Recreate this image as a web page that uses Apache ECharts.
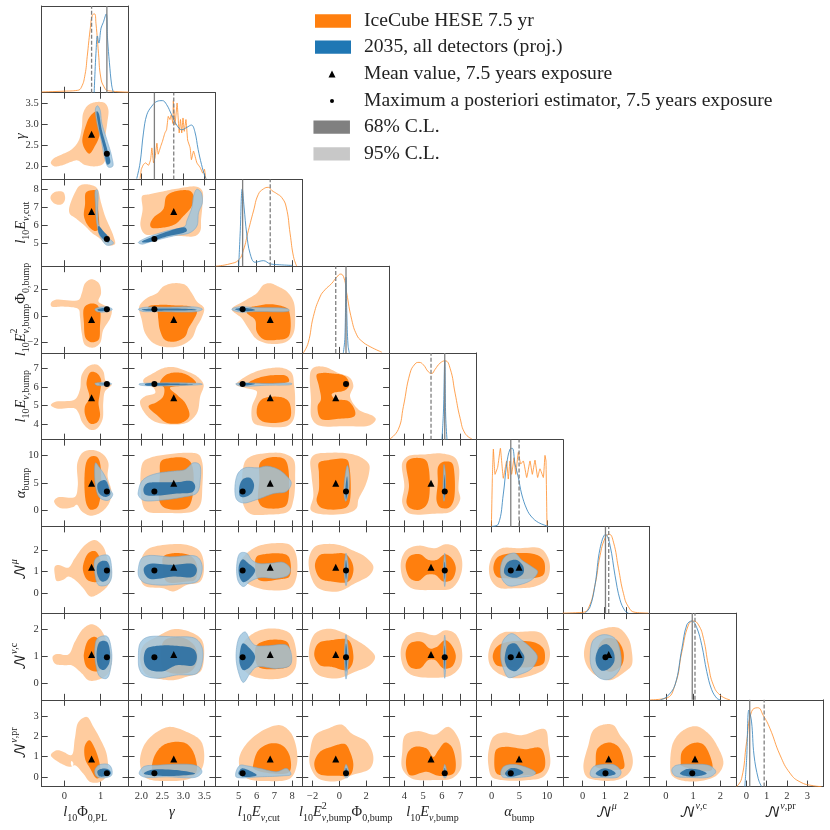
<!DOCTYPE html>
<html><head><meta charset="utf-8">
<style>html,body{margin:0;padding:0;background:#fff}#c{width:830px;height:830px}</style>
<script src="https://cdn.jsdelivr.net/npm/echarts@6/dist/echarts.min.js"></script>
</head><body><div id="c"></div>
<script>
// ---------- axis ranges and ticks for the nine parameters ----------
const ranges=[[-0.62,1.765],[1.696,3.76],[3.69,8.57],[-2.78,3.73],[3.19,7.81],[-2.85,12.86],[-0.92,3.09],[-0.59,2.59],[-0.48,3.79]];
const ticks=[[0,1],[2,2.5,3,3.5],[5,6,7,8],[-2,0,2],[4,5,6,7],[0,5,10],[0,1,2],[0,1,2],[0,1,2,3]];
const meanValue=[0.75,2.77,6.77,-0.27,5.42,4.95,1.2,1.07,0.88];
const mapValue=[1.17,2.31,5.22,0.5,6.15,3.45,1.05,0.97,0.17];
// ---------- 1D posteriors (x,y pairs) ----------
const d0o=[-.62,.01,0,.02,.36,.03,.47,.07,.57,.23,.63,.46,.71,.8,.77,.98,.83,1,.87,.88,.94,.5,1,.2,1.09,.076,1.21,.025,1.77,.008];
const d0b=[.82,0,.845,.27,.87,.5,.91,.72,.95,.63,1.01,.82,1.07,.89,1.15,1,1.19,.67,1.24,.38,1.3,.1,1.35,0];
const d1o=[1.97,.01,2,.13,2.05,.19,2.1,.21,2.17,.18,2.22,.25,2.25,.4,2.29,.21,2.33,.29,2.37,.46,2.4,.32,2.46,.42,2.5,.48,2.56,.59,2.6,.63,2.64,.8,2.68,.76,2.71,.82,2.75,.71,2.76,1,2.8,.69,2.85,.97,2.9,.59,2.93,.76,2.96,.59,2.99,.78,3.02,.61,3.06,.76,3.1,.5,3.16,.4,3.19,.25,3.24,.36,3.32,.21,3.4,.15,3.46,.08,3.5,.13,3.53,.01];
const d1b=[1.89,.01,1.97,.21,2.05,.59,2.13,.82,2.25,.93,2.37,.99,2.5,1,2.6,.95,2.72,.82,2.84,.69,2.96,.63,3.08,.66,3.19,.69,3.27,.61,3.35,.38,3.43,.19,3.51,.04,3.54,.01];
const d2o=[3.72,0,4.51,.03,5,.08,5.26,.2,5.54,.45,5.83,.7,6.1,.91,6.39,.98,6.67,1,6.86,.96,7.14,.92,7.42,.87,7.67,.75,7.89,.41,8.08,.12,8.26,0];
const d2b=[5,0,5.08,.41,5.2,.98,5.3,.75,5.45,.41,5.64,.16,5.92,.05,6.39,.07,6.76,.03,7.14,.02,8,.01];
const d3o=[-2.7,0,-2.33,.13,-1.95,.46,-1.45,.71,-1.08,.8,-.58,.88,-.2,.96,.1,1,.35,.95,.55,.76,.93,.42,1.3,.23,1.68,.15,2.3,.08,3.18,.01];
const d3b=[.3,0,.42,.2,.5,.96,.56,.5,.65,.1,.75,0];
const d4o=[3.24,.01,3.68,.13,3.95,.42,4.3,.84,4.57,.96,4.78,.98,5.01,.95,5.28,.86,5.46,.84,5.63,.89,5.9,.97,6.17,1,6.44,.9,6.7,.59,6.97,.27,7.23,.08,7.59,.01];
const d4b=[6,0,6.08,.35,6.15,1,6.2,.3,6.27,0];
const d5o=[-.06,0,.12,.62,.3,.98,.6,.66,1.08,.75,1.57,.99,2.1,.61,2.7,.83,3,.6,3.3,.83,3.6,.66,4.04,.87,4.34,.66,4.82,.94,5.24,.79,5.72,.83,6.33,.62,6.93,.83,7.35,.66,7.83,.84,8.31,.62,8.73,.73,9.34,.62,9.64,.9,9.82,.83,10,0];
const d5b=[0,0,1.2,.03,2.1,.41,2.71,.79,3.31,.98,3.73,.99,4.22,.79,4.82,.62,5.42,.41,6.33,.22,7.23,.12,8.43,.05,10.24,0];
const d6o=[-.92,0,0,.01,.26,.06,.57,.36,.8,.73,1.03,.95,1.22,1,1.42,.9,1.65,.57,1.88,.25,2.11,.08,2.42,.01,3.03,0];
const d6b=[.11,0,.34,.08,.57,.36,.8,.82,1.06,1,1.26,.86,1.49,.48,1.72,.17,1.95,.03,2.11,0];
const d7o=[-.57,0,0,.02,.34,.19,.59,.61,.83,.95,1.01,1,1.2,.95,1.38,.78,1.56,.44,1.74,.19,1.99,.06,2.35,0];
const d7b=[-.2,0,.04,.04,.34,.19,.59,.65,.77,.95,.95,1,1.13,.92,1.32,.69,1.5,.36,1.68,.13,1.87,.02,1.99,0];
const d8o=[-.48,0,-.23,.1,.02,.57,.26,.95,.56,1,.84,.9,1.16,.74,1.66,.4,2.15,.17,2.64,.06,3.3,.01,3.7,0];
const d8b=[-.07,0,.02,.36,.13,.97,.26,.82,.38,.4,.59,.1,.75,0];
const diagonals=[[d0o,d0b],[d1o,d1b],[d2o,d2b],[d3o,d3b],[d4o,d4b],[d5o,d5b],[d6o,d6b],[d7o,d7b],[d8o,d8b]];
// ---------- 2D credible regions (x,y pairs in data units): name_row_col ----------
const o95_1_0=[-.37,2.09,-.3,2.19,-.07,2.29,.2,2.41,.39,2.61,.48,2.92,.52,3.28,.66,3.47,.89,3.54,1.12,3.51,1.21,3.36,1.18,3.04,1.12,2.64,1.15,2.25,1.07,2.07,.89,2.01,.57,2.04,.36,2.15,.2,2.12,-.07,2.03,-.28,2.01];
const o68_1_0=[.5,2.68,.6,3,.71,3.2,.89,3.32,.98,3.04,.96,2.72,.84,2.49,.69,2.31,.57,2.41,.5,2.57];
const b95_1_0=[.86,3.39,.91,3.45,.98,3.36,1.03,3.04,1.17,2.64,1.3,2.25,1.33,2.01,1.21,1.99,1.12,2.17,1.01,2.64,.89,3.08];
const b68_1_0=[.89,3.32,.94,3.28,1.03,2.88,1.18,2.41,1.26,2.09,1.18,2.05,1.09,2.41,.96,2.88];
const o95_2_0=[.13,6.89,.29,7.82,.43,8.23,.66,8.29,.89,8.1,1.01,7.26,1.12,6.51,1.35,5.39,1.39,4.93,1.21,4.87,.94,5.3,.75,5.58,.57,5.95,.29,6.42,.16,6.61];
const o95i_2_0=[-.37,7.64,-.26,7.86,-.03,7.86,.02,7.45,-.07,7.17,-.26,7.2,-.37,7.45];
const o68_2_0=[.59,7.82,.71,7.95,.89,7.92,.92,7.07,.94,5.77,.84,5.67,.66,5.95,.54,6.51,.57,7.17];
const b95_2_0=[.86,7.97,.91,7.97,.92,6.7,.96,5.95,1.21,5.3,1.35,4.98,1.17,4.87,.98,5.39,.89,6.14,.86,7.07];
const b68_2_0=[.94,5.95,1.07,5.67,1.24,5.24,1.21,5.02,1.07,5.2,.94,5.58];
const o95_2_1=[2.02,7.64,2.17,7.73,2.44,7.86,2.84,8.05,3.32,8.16,3.45,7.92,3.45,7.07,3.42,6.33,3.4,5.67,3.28,5.39,2.92,5.39,2.44,5.49,2.09,5.49,1.98,5.95,2.03,6.89];
const o68_2_1=[2.21,6.05,2.29,6.42,2.52,6.89,2.6,7.64,2.84,7.92,3.16,7.92,3.24,7.64,3.2,7.07,3,6.51,2.8,6.05,2.52,5.86,2.24,5.86];
const b95_2_1=[1.93,5.02,2.13,5.3,2.6,5.67,3.04,5.95,3.08,6.23,3.2,6.98,3.24,7.64,3.32,8.02,3.42,7.83,3.45,7.26,3.36,6.7,3.32,5.95,3.16,5.58,2.76,5.39,2.21,5.06,2.01,4.93];
const b68_2_1=[2.01,5.06,2.37,5.43,3.04,5.86,3.08,5.67,2.6,5.36,2.13,5.02];
const o95_3_0=[-.37,.95,-.26,1.2,.39,1.2,.48,1.7,.57,2.45,.75,2.75,.95,2.45,1.01,1.7,.94,1.08,1.17,.7,1.3,.45,1.26,-.18,1.07,-1.05,.98,-2.05,.8,-2.38,.57,-2.18,.48,-1.3,.43,-.05,.39,.5,-.03,.7,-.35,.7];
const o68_3_0=[.54,.58,.66,.88,.87,.88,.98,.45,.98,-.8,.94,-1.8,.75,-1.98,.59,-1.68,.54,-.55];
const b95_3_0=[.84,.5,.98,.65,1.21,.65,1.32,.5,1.21,.33,.89,.33];
const b68_3_0=[.91,.48,1.17,.6,1.26,.48,1.15,.38,.94,.38];
const o95_3_1=[1.95,.7,2.13,1.33,2.37,1.7,2.52,2.2,2.76,2.45,3.04,2.33,3.2,1.7,3.32,1.08,3.49,.58,3.43,-.18,3.32,-.8,3.2,-1.68,2.92,-2.25,2.6,-2.35,2.29,-2.05,2.09,-1.3,2.01,-.3];
const o68_3_1=[2.17,.7,2.44,.83,2.84,.78,3.16,.7,3.32,.33,3.24,-.3,3.12,-.93,3.04,-1.55,2.8,-1.93,2.56,-1.8,2.44,-1.05,2.4,-.18,2.37,.33,2.17,.4];
const b95_3_1=[1.93,.5,2.05,.63,2.6,.65,3.32,.65,3.45,.5,3.32,.33,2.44,.33,2.01,.35];
const b68_3_1=[2.01,.48,2.44,.55,3.24,.5,3.32,.45,2.6,.4,2.09,.4];
const o95_3_2=[4.61,.5,5.26,1.08,6.01,1.7,6.39,2.33,6.76,2.45,7.23,2.2,7.7,1.83,8.08,1.08,8.17,-.05,8.08,-1.3,7.7,-1.93,6.76,-2.1,6.01,-1.75,5.54,-.93,5.17,-.18];
const o68_3_2=[5.54,.58,6.01,.75,6.76,.88,7.51,.7,7.8,.45,7.8,-1.55,7.14,-1.8,6.39,-1.75,6.01,-1.18,5.92,-.3,5.45,.25];
const b95_3_2=[4.61,.5,4.98,.68,5.83,.63,7.8,.5,7.83,.38,6.01,.33,4.98,.3];
const b68_3_2=[4.79,.5,5.17,.6,5.83,.5,5.92,.43,5.17,.35];
const o95_4_0=[-.37,5.03,-.26,5.2,.29,5.33,.43,5.86,.48,6.65,.66,7.1,.89,7.19,1.07,6.84,1.14,6.31,1.3,6.12,1.12,5.77,1.07,5.15,1.05,4.27,.89,3.77,.71,3.72,.5,4.09,.39,4.62,.29,4.85,-.21,4.85];
const o68_4_0=[.61,6.21,.72,6.78,.89,6.74,1.01,6.39,.98,5.68,.94,5.15,.98,4.44,.89,4.09,.71,4.05,.57,4.53,.57,4.97,.69,5.42];
const b95_4_0=[.84,6.18,.98,6.23,1.21,6.23,1.3,6.16,1.17,6.09,.89,6.09];
const b68_4_0=[.94,6.16,1.17,6.19,1.24,6.16,1.12,6.12];
const o95_4_1=[2.05,6.39,2.29,6.74,2.52,7,2.76,7.06,3.08,6.83,3.32,6.57,3.48,6.12,3.4,5.5,3.32,4.6,3.08,4.09,2.68,4,2.29,4.18,2.05,4.71,1.97,5.24,2.09,5.5,2.33,5.68,2.29,5.95,2.06,6.21];
const o68_4_1=[2.44,6.18,2.56,6.6,2.8,6.77,3.08,6.65,3.3,6.21,3.04,6.07,2.68,5.95,2.84,5.59,3.04,5.15,3.14,4.44,2.96,4.09,2.6,4.09,2.4,4.44,2.17,4.97,2.37,5.19,2.52,5.5,2.54,5.95];
const b95_4_1=[1.95,6.16,2.05,6.19,3.4,6.18,3.45,6.14,2.05,6.07,1.95,6.12];
const b68_4_1=[2.09,6.16,2.76,6.18,3.24,6.14,2.76,6.1,2.09,6.1];
const o95_4_2=[4.85,6.12,5.26,6.48,6.01,6.83,6.76,7,7.51,7,7.98,6.74,8.11,6.12,8.17,5.33,8.08,4.27,7.7,3.91,6.39,3.91,5.83,4.09,5.73,4.88,6.01,5.59,6.01,5.77,5.35,5.95];
const o68a_4_2=[5.54,6.21,6.11,6.48,6.86,6.62,7.7,6.57,7.83,6.3,7.33,6.18,6.39,6.16];
const o68b_4_2=[6.29,5.33,6.76,5.47,7.51,5.42,7.85,5.15,7.89,4.35,7.51,4.14,6.39,4.14,6.05,4.44,6.05,4.97];
const b95_4_2=[4.83,6.16,5.08,6.21,6.58,6.18,7.98,6.18,7.98,6.14,6.58,6.09,5.08,6.05];
const b68_4_2=[4.98,6.16,5.26,6.21,5.92,6.16,5.26,6.07];
const o95_4_3=[-2.15,6.83,-1.83,7.06,-1.08,7.06,-.08,6.74,.8,6.48,1.05,6.04,.8,5.5,1.43,4.8,2.55,4.44,2.73,4.27,2.3,3.96,.43,3.91,-1.58,3.96,-2.08,4.35,-2.13,5.33];
const o68_4_3=[-1.7,6.65,-1.33,6.74,-.45,6.71,.43,6.57,.75,6.12,.43,5.82,-.45,5.68,-.58,5.59,-.33,5.36,.68,5.24,1.18,4.71,1.13,4.44,-.08,4.3,-1.38,4.3,-1.63,4.97,-1.38,5.33,-1.53,6.04];
const o95_5_0=[-.28,1.7,-.17,2.42,.29,2.48,.37,4.42,.36,8.67,.52,10.6,.8,10.97,1.07,10.18,1.21,8.67,1.19,6.24,1.3,3.21,1.21,1.09,.98,-.42,.71,-.91,.48,-.12,.34,1.09,.25,.67,-.12,.48];
const o68_5_0=[.6,8.67,.72,9.76,.89,9.76,.98,8.67,.98,2,.89,.48,.72,.18,.6,1.39];
const b95_5_0=[.86,8.67,.94,8.06,1.12,6.24,1.26,3.82,1.33,2.91,1.21,1.88,.98,2.3,.86,4.42];
const b68_5_0=[.92,4.91,1.12,5.52,1.24,3.82,1.26,2.91,1.12,2.48,.95,3.21];
const o95_5_1=[2.03,8.67,2.21,9.58,2.6,10.18,3.08,10.48,3.36,10.18,3.45,8.67,3.45,4.42,3.4,1.09,3.24,-.12,2.6,-.42,2.13,-.12,2.03,1.09];
const o68_5_1=[2.47,8.97,2.68,9.52,3.04,9.52,3.2,8.36,3.2,2,3.08,.48,2.56,.48,2.43,1.7,2.44,6.24];
const b95_5_1=[1.93,3.52,2.01,5.33,2.17,6.24,2.44,6.85,2.76,7.15,3.04,7.45,3.24,8.67,3.38,8.36,3.4,5.64,3.32,3.21,3,2.48,2.44,1.88,2.05,1.88,1.93,2.79];
const b68_5_1=[2.05,3.94,2.13,4.91,2.44,5.15,2.84,5.15,3.2,5.33,3.28,4.42,3.22,3.39,2.84,3.09,2.37,2.73,2.09,2.91];
const o95_5_2=[5.32,8.67,5.64,9.76,6.39,10.36,7.51,10.36,8.08,9.27,8.17,6.24,8.08,2,7.8,-.12,6.58,-.73,5.64,-.55,5.26,1.09];
const o68_5_2=[6.2,8.67,6.67,9.58,7.51,9.45,7.74,8.36,7.74,1.39,7.51,.61,6.39,.61,6.11,1.7,6.16,5.64];
const b95_5_2=[4.79,4.42,4.98,6.85,5.36,7.76,6.11,7.76,6.58,8.06,7.23,7.45,7.7,6.24,7.95,5.03,7.7,3.52,6.95,3.09,6.01,2,5.26,1.39,4.89,2];
const b68_5_2=[5.04,4.42,5.26,5.76,5.64,5.94,5.86,4.73,5.73,3.21,5.36,2.48,5.08,2.6];
const o95_5_3=[-2.15,9.27,-1.83,10.18,-.83,10.48,.68,10.36,1.68,9.58,2.23,8.36,2.23,6.85,1.93,4.42,1.43,2,1.3,.48,.68,-.42,-1.58,-.55,-2.15,.18,-1.95,2.6,-2.08,6.24];
const o68_5_3=[-1.53,8.67,-.83,9.15,.55,9.27,.75,8.06,.75,1.39,.43,.48,-1.33,.48,-1.7,1.7,-1.53,3.82,-1.53,6.85];
const b95_5_3=[.6,8.18,.73,6.85,.68,3.21,.48,1.7,.35,3.21,.43,6.24];
const b68_5_3=[.58,6.24,.63,3.82,.5,2,.45,3.82];
const o95_5_4=[3.89,8.67,4.21,9.88,5.1,10.18,5.99,10.36,6.7,9.58,6.91,7.76,6.88,3.82,6.97,2,6.52,-.12,5.63,-.55,4.21,-.42,3.89,1.39,4,4.42];
const o68a_5_4=[4.12,8.67,4.39,9.45,5.1,9.27,5.28,8.06,5.24,1.39,4.83,.18,4.3,.48,4.12,1.39,4.25,4.42];
const o68b_5_4=[5.81,8.06,6.08,8.85,6.52,8.67,6.66,6.85,6.61,1.7,6.34,.48,5.9,.61,5.72,1.7,5.78,5.03];
const b95_5_4=[6.11,8.36,6.18,6.85,6.17,3.21,6.11,1.7,6.06,3.21,6.08,6.24];
const b68_5_4=[6.13,6.54,6.17,3.82,6.11,2.12,6.1,3.82];
const o95_6_0=[-.26,1.23,-.17,1.31,.11,1.18,.29,1.62,.57,2.23,.84,2.46,1.07,2.15,1.18,1.62,1.3,1,1.21,.38,.89,-.08,.71,-.15,.52,.23,.29,.62,.11,.77,-.03,.62,-.21,.57,-.26,.85];
const o68_6_0=[.52,1.31,.66,1.85,.84,1.95,.96,1.69,1.03,.62,.84,.51,.63,.62,.52,1];
const b95_6_0=[.84,1.54,.98,1.72,1.21,1.74,1.3,1.15,1.28,.62,1.17,.38,.94,.38,.84,.92];
const b68_6_0=[.91,1.31,1.03,1.49,1.18,1.46,1.26,1,1.18,.62,1.03,.54,.91,.85];
const o95_6_1=[1.97,1.31,2.13,2,2.68,2.26,3.16,2.2,3.4,1.92,3.49,1.15,3.4,.54,3.08,.38,2.76,.08,2.52,.23,2.05,.38];
const o68_6_1=[2.52,1.69,2.76,1.85,3.08,1.8,3.2,1.69,3.32,1.31,3.28,.62,3.08,.54,2.6,.54,2.52,1.15];
const b95_6_1=[1.93,1.15,2.01,1.62,2.17,1.74,2.68,1.68,3.32,1.69,3.44,1.31,3.42,.85,3.32,.54,2.92,.42,2.37,.38,2.05,.51,1.94,.77];
const b68_6_1=[2.06,1.15,2.17,1.34,2.76,1.31,3.24,1.34,3.32,1.08,3.24,.77,2.76,.77,2.21,.66,2.09,.85];
const o95_6_2=[5.04,1.38,5.36,1.77,6.01,2.15,6.95,2.31,7.89,2.23,8.23,1.77,8.23,.69,7.89,.23,6.58,.15,5.64,.38,5.17,.69];
const o68_6_2=[6.01,1.69,6.58,1.82,7.61,1.8,7.85,1.62,7.85,.77,7.33,.65,6.11,.62,5.92,1.31];
const b95_6_2=[4.89,1.31,5.08,1.85,5.45,1.85,5.73,1.54,6.11,1.38,6.76,1.38,7.51,1.42,7.89,1.15,7.8,.85,7.14,.69,6.2,.72,5.64,.54,5.26,.31,4.98,.54];
const b68_6_2=[5.02,1.31,5.23,1.57,5.54,1.38,5.92,1.08,5.64,.69,5.26,.51,5.04,.77];
const o95_6_3=[-2.28,1.62,-1.83,2.15,-.83,2.28,.18,2.2,.93,2,1.93,1.69,2.55,1.23,2.3,.85,1.18,.46,-.08,.08,-1.58,.23,-2.13,.77];
const o68_6_3=[-1.83,1.31,-1.45,1.77,-.58,1.82,.43,1.82,.93,1.46,1.05,1,.68,.54,-.58,.54,-1.45,.69];
const b95_6_3=[.38,1.31,.5,1.85,.68,1.15,.5,.35,.38,.85];
const b68_6_3=[.45,1.31,.5,1.54,.58,1.08,.5,.62,.45,.85];
const o95_6_4=[3.82,1.46,4.12,2,4.75,2.2,5.63,2.08,6.17,2.26,6.7,2.15,7.05,1.62,7,.85,6.52,.23,5.63,.15,4.39,.23,3.95,.62];
const o68_6_4=[4.07,1.31,4.3,1.72,4.83,1.8,5.28,1.54,5.72,1.54,6.17,1.8,6.52,1.62,6.74,1.15,6.52,.62,6.08,.54,5.63,.85,5.19,.85,4.75,.57,4.3,.69];
const b95_6_4=[6.08,1.15,6.15,1.85,6.22,1.15,6.15,.31];
const b68_6_4=[6.11,1.15,6.15,1.46,6.18,1.08,6.15,.62];
const o95_6_5=[-.48,1.23,.3,1.77,1.81,2.08,4.82,2.08,8.73,2.08,9.94,1.77,10.54,1.23,9.94,.62,7.83,.31,4.22,.23,1.2,.26,-.12,.62];
const o68_6_5=[.3,1.15,.9,1.62,2.41,1.8,7.83,1.8,9.34,1.54,9.64,1.15,9.34,.85,7.53,.69,2.71,.69,.9,.77];
const b95_6_5=[1.63,1.23,2.41,1.69,4.22,1.85,5.42,1.54,7.23,1.23,8.31,1,7.23,.62,4.82,.38,3.01,.35,1.81,.69];
const b68_6_5=[2.29,1.15,3.01,1.46,4.52,1.54,5.72,1.23,5.72,.92,4.52,.72,3.01,.77,2.29,.92];
const o95_7_0=[-.32,.99,-.21,1.09,.11,1.07,.29,1.54,.52,2.02,.75,2.18,.98,2.02,1.17,1.54,1.3,.99,1.21,.38,.89,.13,.66,.13,.48,.38,.2,.68,.02,.68,-.26,.74];
const o68_7_0=[.54,1.11,.66,1.6,.84,1.72,.98,1.54,.98,.5,.8,.46,.61,.62,.54,.93];
const b95_7_0=[.84,1.29,.91,1.66,1.17,1.74,1.3,1.17,1.28,.62,1.17,.2,.98,.26,.87,.68];
const b68_7_0=[.89,1.17,.98,1.54,1.17,1.54,1.26,1.05,1.21,.68,1.07,.5,.94,.62];
const o95_7_1=[1.97,.93,2.05,1.41,2.37,1.72,2.76,2,3.16,1.9,3.44,1.6,3.49,.99,3.4,.44,3.08,.26,2.76,.13,2.37,.2,2.09,.38];
const o68_7_1=[2.52,1.54,2.76,1.7,3.04,1.66,3.28,1.35,3.32,.8,3.16,.44,2.76,.38,2.52,.56];
const b95_7_1=[1.93,.93,1.97,1.48,2.13,1.7,2.76,1.72,3.28,1.66,3.44,1.35,3.45,.8,3.32,.38,2.84,.32,2.37,.2,2.05,.32,1.95,.56];
const b68_7_1=[2.06,.99,2.13,1.29,2.37,1.39,2.84,1.39,3.24,1.27,3.32,.99,3.24,.68,2.84,.68,2.52,.46,2.21,.5,2.09,.68];
const o95_7_2=[5.04,1.17,5.45,1.66,6.2,1.96,7.14,2.02,7.89,1.84,8.21,1.29,8.17,.56,7.7,.26,6.58,.17,5.64,.32,5.17,.62];
const o68_7_2=[6.01,1.41,6.67,1.6,7.7,1.54,7.89,1.23,7.89,.68,7.14,.54,6.11,.62,5.92,1.05];
const b95_7_2=[4.85,1.05,5.04,1.72,5.36,1.9,5.64,1.6,5.92,1.41,6.58,1.39,7.7,1.41,7.95,1.11,7.89,.68,7.14,.56,6.01,.62,5.64,.38,5.26,.05,4.98,.44];
const b68_7_2=[5.04,.99,5.23,1.48,5.54,1.35,5.92,.99,5.64,.62,5.26,.5,5.08,.68];
const o95_7_3=[-2.28,1.23,-1.83,1.84,-.83,2.02,.18,1.9,1.05,1.66,2.05,1.35,2.68,.99,2.3,.68,1.18,.44,-.08,.2,-1.58,.32,-2.13,.68];
const o68_7_3=[-1.88,1.05,-1.58,1.48,-.58,1.6,.68,1.6,1.05,1.05,.93,.68,.55,.5,-.58,.62,-1.45,.68];
const b95_7_3=[.38,1.05,.5,1.8,.68,.99,.5,.17];
const b68_7_3=[.43,1.05,.5,1.48,.6,.99,.5,.44];
const o95_7_4=[3.82,1.29,4.12,1.72,4.75,1.9,5.63,1.78,6.17,1.96,6.7,1.84,7.05,1.29,7,.68,6.52,.32,5.63,.22,4.39,.32,3.95,.62];
const o68_7_4=[4.07,1.11,4.3,1.48,4.92,1.54,5.37,1.29,5.72,1.35,6.17,1.6,6.52,1.41,6.74,.99,6.52,.62,6.08,.56,5.63,.87,5.28,.87,4.83,.56,4.3,.62];
const b95_7_4=[6.08,1.05,6.15,1.78,6.22,1.05,6.15,.2];
const b68_7_4=[6.11,1.05,6.15,1.41,6.18,.99,6.15,.5];
const o95_7_5=[-.6,1.11,.3,1.6,2.11,1.88,4.82,1.9,8.73,1.88,9.94,1.6,10.54,1.05,9.64,.56,7.83,.35,4.22,.2,1.2,.38,-.3,.68];
const o68_7_5=[.18,.99,.9,1.35,3.01,1.54,7.83,1.51,9.34,1.29,9.64,.99,9.34,.74,7.53,.62,3.01,.62,.9,.68];
const b95_7_5=[1.63,.99,2.11,1.6,3.61,1.84,5.42,1.6,7.23,1.29,8.25,.99,7.23,.56,4.82,.32,3.01,.23,2.11,.56];
const b68_7_5=[2.41,1.05,3.01,1.41,4.22,1.48,5.42,1.17,5.9,.99,5.42,.68,4.22,.46,3.01,.56,2.41,.8];
const o95_7_6=[.06,1.17,.34,1.78,.95,2.02,1.65,2.05,2.11,1.66,2.26,1.23,2.26,.68,1.95,.44,1.26,.13,.57,.32,.18,.68];
const o68_7_6=[.72,1.35,1.03,1.66,1.57,1.6,1.88,1.17,1.8,.68,1.26,.44,.8,.68];
const b95_7_6=[.35,1.11,.49,1.6,.95,1.8,1.49,1.66,1.75,1.11,1.72,.56,1.26,.17,.8,.2,.42,.56];
const b68_7_6=[.6,.99,.8,1.35,1.11,1.45,1.42,1.17,1.45,.8,1.18,.54,.88,.48,.65,.68];
const o95_8_0=[-.37,1.07,-.21,1.31,-.03,1.23,.2,1.07,.29,1.89,.39,2.7,.62,2.95,.8,2.46,.98,1.89,1.17,1.07,1.17,.08,.98,-.25,.71,-.25,.52,.16,.29,.57,.16,.49,-.17,.74];
const hole_8_0=[.2,.78,.25,.66,.22,.5,.18,.64];
const o68_8_0=[.57,.9,.57,1.56,.69,1.8,.84,1.39,.98,.57,.98,0,.89,-.08,.71,.41];
const b95_8_0=[.84,.33,.94,.57,1.21,.61,1.3,.41,1.3,.08,1.17,-.03,.94,-.03,.86,.08];
const b68_8_0=[.91,.28,1.07,.41,1.24,.33,1.28,.16,1.17,.05,.96,.03];
const o95_8_1=[1.97,.9,2.09,1.64,2.37,2.21,2.68,2.46,3.08,2.21,3.4,1.8,3.49,1.23,3.44,.41,3.16,-.08,2.6,-.21,2.13,-.08,2.01,.25];
const o68_8_1=[2.29,.9,2.52,1.56,2.92,1.72,3.12,1.56,3.28,.98,3.28,.16,2.29,.25];
const b95_8_1=[1.95,.16,2.05,.49,2.37,.57,3.32,.54,3.44,.25,3.32,0,2.6,0,2.05,0];
const b68_8_1=[2.06,.16,2.21,.33,2.84,.33,3.28,.16,2.84,.05,2.21,.08];
const o95_8_2=[5.02,.9,5.45,1.64,6.39,2.3,7.33,2.54,7.89,2.21,8.23,1.48,8.26,.57,7.89,-.08,6.58,-.21,5.54,-.11,5.17,.16];
const o68_8_2=[5.83,.66,6.11,1.31,6.76,1.64,7.42,1.56,7.85,1.07,7.85,.25,6.95,.16,5.83,.41];
const b95_8_2=[4.85,.25,5.08,.57,5.45,.54,6.2,.41,7.14,.25,7.7,.41,7.93,.11,7.51,.05,6.2,0,5.08,-.05,4.85,0];
const b68_8_2=[4.98,.16,5.17,.41,5.54,.33,6.01,.08,5.26,0];
const o95_8_3=[-2.2,1.23,-1.83,2.05,-.83,2.38,.18,2.57,.93,2.13,2.05,1.72,2.55,.98,2.3,.41,.93,.08,-.08,-.21,-1.58,-.08,-2.2,.57];
const o68_8_3=[-1.88,.66,-1.45,1.23,-.58,1.48,.43,1.61,.8,1.23,1.05,.57,.8,.08,-.08,.05,-1.58,.16];
const b95_8_3=[.38,.33,.5,.61,.68,.33,.63,-.03,.43,-.03];
const b68_8_3=[.43,.28,.5,.44,.63,.25,.6,.05,.45,.05];
const o95_8_4=[3.89,1.23,4.04,2.05,4.75,2.25,5.63,2.08,6.34,2.46,6.88,1.89,7.05,.9,6.97,.33,6.52,-.08,5.63,-.16,4.39,-.08,3.89,.41];
const o68_8_4=[4.09,.57,4.21,1.23,4.57,1.48,5.19,1.39,5.54,.98,5.81,1.31,6.17,1.69,6.52,1.48,6.74,.57,6.61,.16,5.81,.05,5.19,.25,4.3,.08];
const b95_8_4=[6.08,.33,6.15,.61,6.24,.33,6.22,-.03,6.1,-.03];
const b68_8_4=[6.11,.28,6.15,.44,6.2,.25,6.18,.05,6.11,.05];
const o95_8_5=[-.6,1.23,.3,1.97,2.11,2.18,5.42,2.05,9.64,2.34,10.24,1.56,10.54,.57,9.34,0,6.63,-.16,1.81,-.16,0,0,-.6,.57];
const o68_8_5=[.48,.9,.9,1.36,2.71,1.48,6.02,1.36,8.73,1.43,9.52,1.07,9.52,.41,8.43,.16,3.01,.08,.9,.16];
const b95_8_5=[1.63,.16,2.11,.49,3.61,.61,6.02,.49,7.95,.21,7.53,.08,4.82,-.03,2.71,-.05,1.93,0];
const b68_8_5=[2.41,.16,3.31,.41,4.52,.41,5.72,.21,4.52,.05,3.01,0];
const o95_8_6=[.03,.49,.26,1.56,.49,2.3,.95,2.57,1.42,2.54,1.72,2.05,2.18,1.39,2.31,.66,2.11,.16,1.57,-.16,.65,-.16,.18,0];
const o68_8_6=[.6,.66,.68,1.39,1.18,1.69,1.65,1.48,1.88,.9,1.88,.41,.6,.49];
const b95_8_6=[.34,.16,.49,.49,.95,.61,1.49,.57,1.77,.25,1.65,0,.8,-.03,.42,0];
const b68_8_6=[.6,.16,.95,.41,1.34,.33,1.52,.16,1.26,.05,.8,.03];
const o95_8_7=[.16,.57,.28,1.72,.65,2.3,1.13,2.49,1.56,2.13,1.87,1.56,2.11,.66,1.87,.08,1.26,-.21,.52,-.16,.22,.08];
const o68_8_7=[.55,.66,.59,1.23,.95,1.64,1.32,1.64,1.56,1.23,1.68,.33,.55,.57];
const b95_8_7=[.22,.33,.34,.54,1.01,.62,1.62,.54,1.83,.25,1.62,0,.89,-.03,.34,.05];
const b68_8_7=[.52,.16,.77,.38,1.26,.33,1.5,.16,1.26,.05,.77,.03];
const panels=[
[1,0,[o95_1_0],[o68_1_0],[b95_1_0],[b68_1_0]],
[2,0,[o95_2_0,o95i_2_0],[o68_2_0],[b95_2_0],[b68_2_0]],[2,1,[o95_2_1],[o68_2_1],[b95_2_1],[b68_2_1]],
[3,0,[o95_3_0],[o68_3_0],[b95_3_0],[b68_3_0]],[3,1,[o95_3_1],[o68_3_1],[b95_3_1],[b68_3_1]],[3,2,[o95_3_2],[o68_3_2],[b95_3_2],[b68_3_2]],
[4,0,[o95_4_0],[o68_4_0],[b95_4_0],[b68_4_0]],[4,1,[o95_4_1],[o68_4_1],[b95_4_1],[b68_4_1]],[4,2,[o95_4_2],[o68a_4_2,o68b_4_2],[b95_4_2],[b68_4_2]],[4,3,[o95_4_3],[o68_4_3],[],[]],
[5,0,[o95_5_0],[o68_5_0],[b95_5_0],[b68_5_0]],[5,1,[o95_5_1],[o68_5_1],[b95_5_1],[b68_5_1]],[5,2,[o95_5_2],[o68_5_2],[b95_5_2],[b68_5_2]],[5,3,[o95_5_3],[o68_5_3],[b95_5_3],[b68_5_3]],[5,4,[o95_5_4],[o68a_5_4,o68b_5_4],[b95_5_4],[b68_5_4]],
[6,0,[o95_6_0],[o68_6_0],[b95_6_0],[b68_6_0]],[6,1,[o95_6_1],[o68_6_1],[b95_6_1],[b68_6_1]],[6,2,[o95_6_2],[o68_6_2],[b95_6_2],[b68_6_2]],[6,3,[o95_6_3],[o68_6_3],[b95_6_3],[b68_6_3]],[6,4,[o95_6_4],[o68_6_4],[b95_6_4],[b68_6_4]],[6,5,[o95_6_5],[o68_6_5],[b95_6_5],[b68_6_5]],
[7,0,[o95_7_0],[o68_7_0],[b95_7_0],[b68_7_0]],[7,1,[o95_7_1],[o68_7_1],[b95_7_1],[b68_7_1]],[7,2,[o95_7_2],[o68_7_2],[b95_7_2],[b68_7_2]],[7,3,[o95_7_3],[o68_7_3],[b95_7_3],[b68_7_3]],[7,4,[o95_7_4],[o68_7_4],[b95_7_4],[b68_7_4]],[7,5,[o95_7_5],[o68_7_5],[b95_7_5],[b68_7_5]],[7,6,[o95_7_6],[o68_7_6],[b95_7_6],[b68_7_6]],
[8,0,[o95_8_0],[o68_8_0],[b95_8_0],[b68_8_0]],[8,1,[o95_8_1],[o68_8_1],[b95_8_1],[b68_8_1]],[8,2,[o95_8_2],[o68_8_2],[b95_8_2],[b68_8_2]],[8,3,[o95_8_3],[o68_8_3],[b95_8_3],[b68_8_3]],[8,4,[o95_8_4],[o68_8_4],[b95_8_4],[b68_8_4]],[8,5,[o95_8_5],[o68_8_5],[b95_8_5],[b68_8_5]],[8,6,[o95_8_6],[o68_8_6],[b95_8_6],[b68_8_6]],[8,7,[o95_8_7],[o68_8_7],[b95_8_7],[b68_8_7]]
];
// ---------- text ----------
const CAL='\u{1D4A9}';
const paramNames=[
 '{i|l}{s|10}{r|Φ}{s|0,PL}',
 '{i|γ}',
 '{i|l}{s|10}{i|E}{si|ν}{s|,cut}',
 '{i|l}{s|10}{i|E}{u2|2}{si|ν}{s|,bump}{r|Φ}{s|0,bump}',
 '{i|l}{s|10}{i|E}{si|ν}{s|,bump}',
 '{i|α}{s|bump}',
 '{c|'+CAL+'}{ui|μ}',
 '{c|'+CAL+'}{ui|ν}{u|,c}',
 '{c|'+CAL+'}{ui|ν}{u|,pr}'
];
const legendRows=['IceCube HESE 7.5 yr','2035, all detectors (proj.)','Mean value, 7.5 years exposure','Maximum a posteriori estimator, 7.5 years exposure','68% C.L.','95% C.L.'];
// ---------- layout and style ----------
const F='"Liberation Serif","DejaVu Serif",serif';
const X0=41.7,Y0=6,W=86.85,H=86.73,DMAX=1.1,EDGE='#444';
const C={o95:'#ffcc9f',o68:'#ff7f0e',b95:'rgba(158,196,222,0.82)',b68:'rgba(45,112,163,0.92)'};
const rich={
 i:{fontFamily:F,fontStyle:'italic',fontSize:14.5,lineHeight:22,color:'#222'},
 r:{fontFamily:F,fontSize:14.5,lineHeight:22,color:'#222'},
 c:{fontFamily:'"DejaVu Math TeX Gyre","DejaVu Serif",serif',fontSize:14.5,lineHeight:22,color:'#222'},
 s:{fontFamily:F,fontSize:10,lineHeight:11,verticalAlign:'bottom',color:'#222'},
 si:{fontFamily:F,fontStyle:'italic',fontSize:10,lineHeight:11,verticalAlign:'bottom',color:'#222'},
 u:{fontFamily:F,fontSize:10,lineHeight:11,verticalAlign:'top',color:'#222'},
 ui:{fontFamily:F,fontStyle:'italic',fontSize:10,lineHeight:11,verticalAlign:'top',color:'#222'},
 u2:{fontFamily:F,fontSize:10,lineHeight:11,verticalAlign:'top',color:'#222',padding:[0,-5,0,0]}
};
const pairs=f=>{const o=[];for(let i=0;i<f.length;i+=2)o.push([f[i],f[i+1]]);return o;};
const fmt=i=>v=>{const s=i===1?v.toFixed(1):String(v);return s.replace('-','\u2212');};
// closed centripetal Catmull-Rom outline through screen points
function roundOutline(P){
 const n=P.length,out=[],d=(a,b)=>Math.max(1e-3,Math.sqrt(Math.hypot(a[0]-b[0],a[1]-b[1])));
 for(let i=0;i<n;i++){
  const p0=P[(i-1+n)%n],p1=P[i],p2=P[(i+1)%n],p3=P[(i+2)%n];
  const t1=d(p0,p1),t2=t1+d(p1,p2),t3=t2+d(p2,p3);
  for(let k=0;k<10;k++){
   const t=t1+(t2-t1)*k/10;
   const L=(a,b,ta,tb)=>[a[0]+(b[0]-a[0])*(t-ta)/(tb-ta),a[1]+(b[1]-a[1])*(t-ta)/(tb-ta)];
   const A1=L(p0,p1,0,t1),A2=L(p1,p2,t1,t2),A3=L(p2,p3,t2,t3);
   out.push(L(L(A1,A2,0,t2),L(A2,A3,t1,t3),t1,t2));
  }
 }
 return out;
}
const grids=[],xAxes=[],yAxes=[],series=[];const idx={};
function addPanel(r,c){
 const g=grids.length;idx[r+'_'+c]=xAxes.length;
 grids.push({left:X0+c*W,top:Y0+r*H,width:W,height:H,containLabel:false});
 const diag=r===c;
 const line={show:true,onZero:false,lineStyle:{color:EDGE,width:1}};
 const tick=(vals,show)=>({show,inside:true,length:6,customValues:vals,lineStyle:{color:EDGE,width:1}});
 const base={gridIndex:g,type:'value',splitLine:{show:false},axisLine:line};
 const bottomLab=r===8;
 xAxes.push({...base,position:'bottom',min:ranges[c][0],max:ranges[c][1],axisTick:tick(ticks[c],true),
  axisLabel:{show:bottomLab,customValues:ticks[c],margin:4,fontFamily:F,fontSize:10.5,color:'#333',formatter:fmt(c)},
  name:bottomLab?paramNames[c]:'',nameLocation:'middle',nameGap:15,nameMoveOverlap:false,nameTextStyle:{rich}});
 xAxes.push({...base,position:'top',min:ranges[c][0],max:ranges[c][1],axisTick:tick(ticks[c],!diag),axisLabel:{show:false}});
 const yr=diag?[0,DMAX]:ranges[r],yt=diag?[]:ticks[r];
 const leftLab=c===0&&r>0;
 yAxes.push({...base,position:'left',min:yr[0],max:yr[1],axisTick:tick(yt,!diag),
  axisLabel:{show:leftLab,customValues:yt,margin:3,fontFamily:F,fontSize:10.5,color:'#333',formatter:fmt(r)},
  name:leftLab?paramNames[r]:'',nameLocation:'middle',nameGap:10,nameMoveOverlap:false,nameRotate:90,nameTextStyle:{rich}});
 yAxes.push({...base,position:'right',min:yr[0],max:yr[1],axisTick:tick(yt,!diag),axisLabel:{show:false}});
}
for(let r=0;r<9;r++)for(let c=0;c<=r;c++)addPanel(r,c);
function polySeries(r,c,flat,color,stroke){
 const pts=pairs(flat),a=idx[r+'_'+c];
 series.push({type:'custom',xAxisIndex:a,yAxisIndex:a,silent:true,animation:false,encode:{x:0,y:1},data:pts,
  renderItem(p,api){
   if(p.dataIndex!==0)return null;
   return {type:'polygon',shape:{points:roundOutline(pts.map(q=>api.coord(q)))},style:{fill:color,stroke:stroke||null,lineWidth:stroke?0.7:0}};
  }});
}
for(const [r,c,o95,o68,b95,b68] of panels){
 o95.forEach(p=>polySeries(r,c,p,C.o95));
 if(r===8&&c===0)polySeries(r,c,hole_8_0,'#fff');
 o68.forEach(p=>polySeries(r,c,p,C.o68));
 b95.forEach(p=>polySeries(r,c,p,C.b95,'rgba(120,165,200,0.8)'));
 b68.forEach(p=>polySeries(r,c,p,C.b68));
 const a=idx[r+'_'+c];
 series.push({type:'scatter',xAxisIndex:a,yAxisIndex:a,silent:true,animation:false,symbol:'triangle',symbolSize:7,itemStyle:{color:'#000',opacity:1},data:[[meanValue[c],meanValue[r]]],z:5});
 series.push({type:'scatter',xAxisIndex:a,yAxisIndex:a,silent:true,animation:false,symbol:'circle',symbolSize:6,itemStyle:{color:'#000',opacity:1},data:[[mapValue[c],mapValue[r]]],z:5});
}
diagonals.forEach((d,i)=>{
 const a=idx[i+'_'+i];
 const noisyO=i===1||i===5;
 const ln=(data,color,dash,width,smooth)=>series.push({type:'line',xAxisIndex:a,yAxisIndex:a,silent:true,animation:false,showSymbol:false,symbol:'none',smooth,data,
   lineStyle:{color,width,type:dash?[4,2]:'solid'}});
 ln(pairs(d[0]),'rgba(255,140,40,0.8)',false,1,noisyO?0.1:0.5);
 ln(pairs(d[1]),'rgba(60,135,190,0.85)',false,1,0.4);
 ln([[meanValue[i],0],[meanValue[i],DMAX]],'#7f7f7f',true,1.3,false);
 ln([[mapValue[i],0],[mapValue[i],DMAX]],'#7f7f7f',false,1.3,false);
});
// legend entries: one legend component per row
legendRows.forEach(n=>series.push({type:'scatter',name:n,xAxisIndex:0,yAxisIndex:0,data:[],silent:true}));
const rowCenters=[20,46.2,73,100,126.2,152.8];
const rowIcons=[['rect',36,13.3,333,'#ff7f0e'],['rect',36,13.3,333,'#1f77b4'],['triangle',7,7,332,'#000'],['circle',4,4,332,'#000'],['rect',36.5,13.3,331.7,'#808080'],['rect',36.5,13.3,331.7,'#c8c8c8']];
const legends=legendRows.map((name,i)=>{
 const [icon,w,h,cx,color]=rowIcons[i],left=cx-w/2;
 return {show:true,left,top:rowCenters[i]-9,padding:0,itemWidth:w,itemHeight:h,selectedMode:false,
  textStyle:{fontFamily:F,fontSize:19.6,lineHeight:18,color:'#222',padding:[0,0,0,364-left-w-5]},
  data:[{name,icon,itemStyle:{color,opacity:1,borderWidth:0}}]};
});
const chart=echarts.init(document.getElementById('c'),null,{renderer:'canvas'});
chart.setOption({animation:false,backgroundColor:'#fff',tooltip:{show:false},legend:legends,grid:grids,xAxis:xAxes,yAxis:yAxes,series});
</script></body></html>
